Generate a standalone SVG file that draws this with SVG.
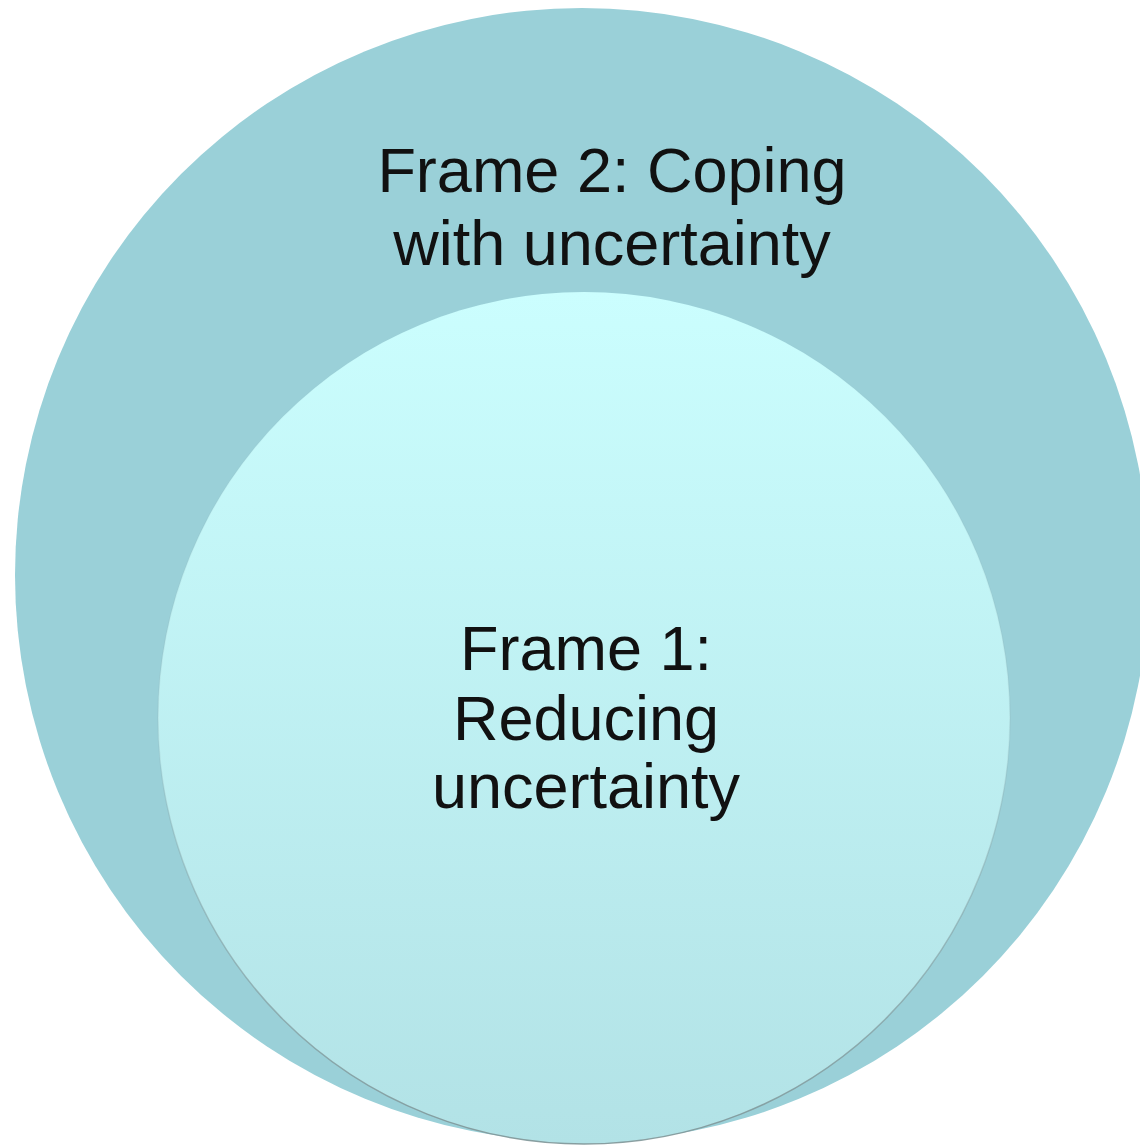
<svg xmlns="http://www.w3.org/2000/svg" width="1140" height="1145" viewBox="0 0 1140 1145">
  <style>
    .label { font-family: "Liberation Sans", Arial, sans-serif; font-size: 63px; fill: #111111; text-anchor: middle; }
  </style>
  <defs>
    <linearGradient id="innerFill" x1="0" y1="0" x2="0" y2="1">
      <stop offset="0" stop-color="#CBFEFE"/>
      <stop offset="1" stop-color="#B2E2E6"/>
    </linearGradient>
    <!-- rim darkens toward the bottom, like a soft shadow edge -->
    <linearGradient id="innerRim" x1="0" y1="0" x2="0" y2="1">
      <stop offset="0" stop-color="#7F9597" stop-opacity="0"/>
      <stop offset="0.55" stop-color="#7F9597" stop-opacity="0.15"/>
      <stop offset="1" stop-color="#7F9597" stop-opacity="0.9"/>
    </linearGradient>
  </defs>
  <rect width="1140" height="1145" fill="#FFFFFF"/>

  <!-- Outer frame -->
  <g id="frame2">
    <circle cx="582" cy="575" r="567" fill="#9AD0D8"/>
    <text class="label" x="612" y="192">Frame 2: Coping</text>
    <text class="label" x="612" y="265">with uncertainty</text>
  </g>

  <!-- Inner frame -->
  <g id="frame1">
    <circle cx="584" cy="718" r="426" fill="url(#innerFill)" stroke="url(#innerRim)" stroke-width="1.5"/>
    <text class="label" x="586" y="670">Frame 1:</text>
    <text class="label" x="586" y="740">Reducing</text>
    <text class="label" x="586" y="808">uncertainty</text>
  </g>

  <g id="connectors"/>
</svg>
